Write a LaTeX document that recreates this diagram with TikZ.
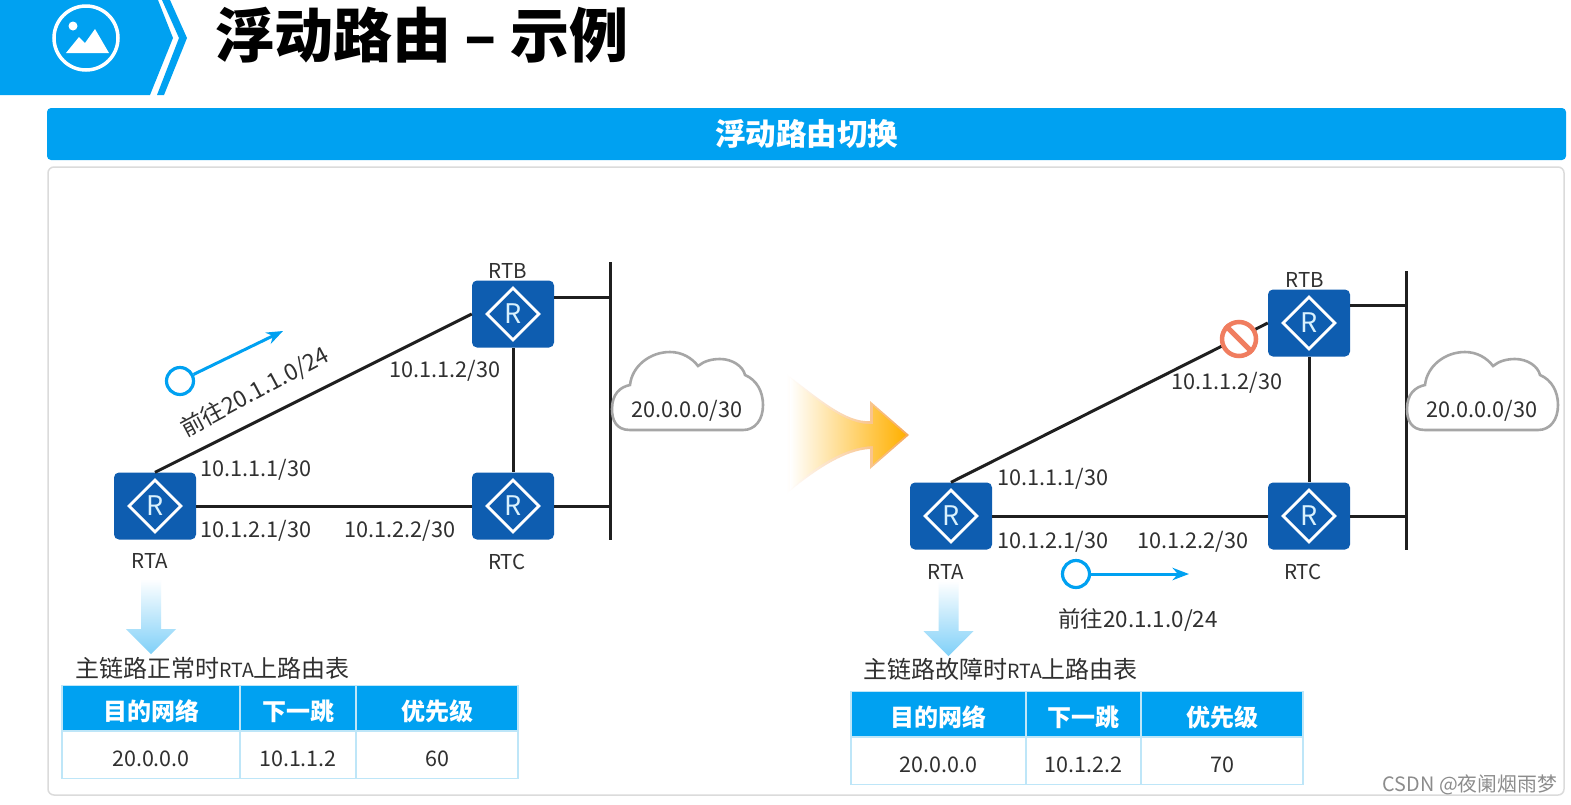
\documentclass[tikz,border=0pt]{standalone}
\usepackage{fontspec}
\usepackage{xcolor}
\usetikzlibrary{arrows.meta,shapes.geometric}
\setmainfont{Noto Sans CJK SC}
\definecolor{hwblue}{RGB}{0,161,241}
\definecolor{hwrouter}{RGB}{14,93,176}
\definecolor{hwline}{RGB}{190,230,248}
\definecolor{hwtext}{RGB}{48,48,48}
\definecolor{hwblock}{RGB}{240,125,95}
\definecolor{hworange}{RGB}{255,176,0}
\definecolor{hwedge}{RGB}{246,170,90}
\tikzset{
  routerbox/.style={fill=hwrouter,rounded corners=5pt,minimum width=82pt,minimum height=67pt,inner sep=0pt},
  routermark/.style={diamond,draw=white,line width=2.8pt,minimum width=53pt,minimum height=53pt,inner sep=0pt,
        text=white!85!hwblue,font=\fontsize{27}{27}\selectfont},
  addr/.style={text=hwtext,inner sep=0pt,font=\fontsize{21.7}{25}\selectfont},
  routername/.style={text=hwtext,inner sep=0pt,font=\fontsize{20.5}{24}\selectfont},
  link/.style={draw=black!88,line width=3pt},
  packet/.style={circle,draw=hwblue,line width=3.2pt,fill=white,minimum size=27pt,inner sep=0pt},
  tabhead/.style={fill=hwblue,draw=hwline,line width=1.2pt,text=white,inner sep=0pt,minimum height=45pt,
        text height=28pt,text depth=2.8pt,font=\fontsize{24}{28}\selectfont\bfseries},
  tabcell/.style={draw=hwline,line width=1.6pt,text=hwtext,inner sep=0pt,minimum height=47pt,
        text height=25pt,text depth=2.6pt,font=\fontsize{21.5}{25}\selectfont},
  tabtitle/.style={anchor=west,text=hwtext,inner sep=0pt,font=\fontsize{24}{28}\selectfont},
  netcloud/.pic={
    \draw[draw=black!35,line width=2.6pt,fill=white]
      (20,78) .. controls (6,78) and (2,68) .. (2,57) .. controls (2,42) and (10,35) .. (20,33)
      .. controls (22,14) and (40,0) .. (60,0) .. controls (72,0) and (82,6) .. (88,14)
      .. controls (94,9) and (102,7) .. (110,7) .. controls (122,7) and (133,14) .. (135,23)
      .. controls (147,28) and (153,40) .. (153,53) .. controls (153,68) and (145,78) .. (133,78) -- cycle;
    \node[addr] (-label) at (77,58.5) {20.0.0.0/30};
  },
  downarrow/.pic={
    \shade[top color=white,bottom color=hwblue!50]
      (-10,0) -- (10,0) -- (10,50) -- (25,50) -- (0,75) -- (-25,50) -- (-10,50) -- cycle;
  }
}

\begin{document}
\begin{tikzpicture}[x=1pt,y=-1pt,>=Stealth]
  \useasboundingbox (0,0) rectangle (1571,804);
  \fill[white] (0,0) rectangle (1571,804);
  % 标题栏
  \fill[hwblue] (0,0) -- (158,0) -- (173,38) -- (150,95) -- (0,95) -- cycle;
  \fill[hwblue] (162,0) -- (170,0) -- (187,38) -- (164,95) -- (157,95) -- (179,38) -- cycle;
  \node[circle,draw=white,line width=3.5pt,minimum size=64pt,inner sep=0pt] (icon) at (86,38) {};
  \node[circle,fill=white,minimum size=9pt,inner sep=0pt] (sun) at (73,26) {};
  \fill[white] (66,53) -- (79,37) -- (85,43) -- (95,29) -- (109,53) -- cycle;
  \node[anchor=west,inner sep=0pt,text=black,font=\fontsize{59}{64}\selectfont\bfseries] (title) at (215,35) {浮动路由 – 示例};
  % 蓝色横条与白色面板
  \node[fill=hwblue,rounded corners=4pt,minimum width=1519pt,minimum height=52pt,inner sep=0pt,
        text=white,font=\fontsize{30.5}{34}\selectfont\bfseries] (banner) at (806.5,134) {浮动路由切换};
  \draw[black!14,line width=1.5pt,rounded corners=6pt] (48,167) rectangle (1564,795);

  % 左图：主链路正常
  \node[routerbox] (rtaL) at (155,506) {};
  \node[routerbox] (rtbL) at (513,314) {};
  \node[routerbox] (rtcL) at (513,506) {};
  \node[routermark] (rtaLr) at (rtaL) {R};
  \node[routermark] (rtbLr) at (rtbL) {R};
  \node[routermark] (rtcLr) at (rtcL) {R};
  \coordinate (barLtop) at (610,262);
  \coordinate (barLbot) at (610,540);
  \coordinate (barLb) at (610,297);
  \coordinate (barLc) at (610,506);
  \draw[link] (rtaL.north) -- (rtbL.west);
  \draw[link] (rtaL.east) -- (rtcL.west);
  \draw[link] (rtbL.south) -- (rtcL.north);
  \draw[link] (barLtop) -- (barLbot);
  \draw[link] (barLb -| rtbL.east) -- (barLb);
  \draw[link] (rtcL.east) -- (barLc);
  \pic (cloudL) at (610,352) {netcloud};
  \node[routername] (rtaLn) at (150,561) {RTA};
  \node[routername] (rtbLn) at (508,271) {RTB};
  \node[routername] (rtcLn) at (507,562) {RTC};
  \node[addr] (ipL1) at (445,371) {10.1.1.2/30};
  \node[addr] (ipL2) at (256,470) {10.1.1.1/30};
  \node[addr] (ipL3) at (256,531) {10.1.2.1/30};
  \node[addr] (ipL4) at (400,531) {10.1.2.2/30};
  % 报文走向
  \node[packet] (pktL) at (180,381) {};
  \coordinate (pktLend) at (283,331);
  \draw[->,hwblue,line width=3pt] (pktL) -- (pktLend);
  \node[addr,font=\fontsize{23}{27}\selectfont,rotate=28] (pktLn) at (255,392) {前往20.1.1.0/24};
  % 左路由表
  \pic at (151,579) {downarrow};
  \node[tabtitle] (tabLt) at (75,668) {主链路正常时{\fontsize{19.5}{24}\selectfont RTA}上路由表};
  \node[tabhead,minimum width=178pt] (tabLa) at (151,708) {目的网络};
  \node[tabhead,minimum width=116pt] (tabLb) at (298,708) {下一跳};
  \node[tabhead,minimum width=162pt] (tabLc) at (437,708) {优先级};
  \node[tabcell,minimum width=178pt] (tabLd) at (151,755) {20.0.0.0};
  \node[tabcell,minimum width=116pt] (tabLe) at (298,755) {10.1.1.2};
  \node[tabcell,minimum width=162pt] (tabLf) at (437,755) {60};

  % 中间箭头
  \shade[left color=white,right color=hwedge]
    (786,374) .. controls (815,395) and (845,423) .. (870,421) -- (870,401) -- (909,435) -- (870,469)
    -- (870,449) .. controls (845,450) and (815,470) .. (786,494) -- cycle;
  \shade[left color=white,right color=hworange]
    (790,378) .. controls (815,398) and (845,426) .. (873,424) -- (873,406) -- (906,435) -- (873,464)
    -- (873,446) .. controls (845,447) and (815,466) .. (790,490) -- cycle;

  % 右图：主链路故障
  \node[routerbox] (rtaR) at (951,516) {};
  \node[routerbox] (rtbR) at (1309,323) {};
  \node[routerbox] (rtcR) at (1309,516) {};
  \node[routermark] (rtaRr) at (rtaR) {R};
  \node[routermark] (rtbRr) at (rtbR) {R};
  \node[routermark] (rtcRr) at (rtcR) {R};
  \coordinate (barRtop) at (1406,271);
  \coordinate (barRbot) at (1406,550);
  \coordinate (barRb) at (1406,305);
  \coordinate (barRc) at (1406,516);
  \draw[link] (rtaR.north) -- (rtbR.west);
  \draw[link] (rtaR.east) -- (rtcR.west);
  \draw[link] (rtbR.south) -- (rtcR.north);
  \draw[link] (barRtop) -- (barRbot);
  \draw[link] (barRb -| rtbR.east) -- (barRb);
  \draw[link] (rtcR.east) -- (barRc);
  \pic (cloudR) at (1405,352) {netcloud};
  % 故障标记
  \node[circle,draw=hwblock,line width=4.5pt,fill=white,minimum size=34pt,inner sep=0pt] (block) at (1239,339) {};
  \draw[hwblock,line width=5pt] (block.135) -- (block.-45);
  \node[routername] (rtaRn) at (946,572) {RTA};
  \node[routername] (rtbRn) at (1305,280) {RTB};
  \node[routername] (rtcRn) at (1303,572) {RTC};
  \node[addr] (ipR1) at (1227,383) {10.1.1.2/30};
  \node[addr] (ipR2) at (1053,479) {10.1.1.1/30};
  \node[addr] (ipR3) at (1053,542) {10.1.2.1/30};
  \node[addr] (ipR4) at (1193,542) {10.1.2.2/30};
  \node[packet] (pktR) at (1076,574) {};
  \coordinate (pktRend) at (1189,574);
  \draw[->,hwblue,line width=3pt] (pktR) -- (pktRend);
  \node[addr,font=\fontsize{22.4}{26}\selectfont] (pktRn) at (1138,620) {前往20.1.1.0/24};
  % 右路由表
  \pic at (948.5,581) {downarrow};
  \node[tabtitle] (tabRt) at (863,669) {主链路故障时{\fontsize{19.5}{24}\selectfont RTA}上路由表};
  \node[tabhead,minimum width=175pt] (tabRa) at (938.5,714) {目的网络};
  \node[tabhead,minimum width=115pt] (tabRb) at (1083.5,714) {下一跳};
  \node[tabhead,minimum width=162pt] (tabRc) at (1222,714) {优先级};
  \node[tabcell,minimum width=175pt] (tabRd) at (938.5,761) {20.0.0.0};
  \node[tabcell,minimum width=115pt] (tabRe) at (1083.5,761) {10.1.2.2};
  \node[tabcell,minimum width=162pt] (tabRf) at (1222,761) {70};

  % 水印
  \node[anchor=east,inner sep=0pt,text=black!45,font=\fontsize{19.8}{23}\selectfont] (mark) at (1557,785) {CSDN @夜阑烟雨梦};
\end{tikzpicture}
\end{document}
